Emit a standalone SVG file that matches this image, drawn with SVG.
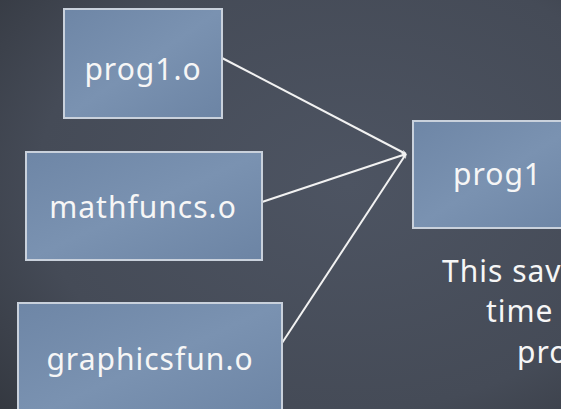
<svg xmlns="http://www.w3.org/2000/svg" width="561" height="409" viewBox="0 0 561 409">
  <defs>
    <radialGradient id="board" cx="0.62" cy="0.45" r="0.85">
      <stop offset="0" stop-color="#4d5462"/>
      <stop offset="0.65" stop-color="#454b57"/>
      <stop offset="1" stop-color="#33373f"/>
    </radialGradient>
    <linearGradient id="boxfill" x1="0" y1="0" x2="1" y2="1">
      <stop offset="0" stop-color="#6e86a6"/>
      <stop offset="0.5" stop-color="#7a92b1"/>
      <stop offset="1" stop-color="#6c84a4"/>
    </linearGradient>
    <marker id="tip" viewBox="0 0 10 10" refX="9" refY="5" markerWidth="5" markerHeight="5" orient="auto" markerUnits="userSpaceOnUse">
      <path d="M1,1 L9,5 L1,9" fill="none" stroke="#f2f2f2" stroke-width="1.5"/>
    </marker>
  </defs>
  <style>
    .box { fill: url(#boxfill); stroke: #c9d1dc; stroke-width: 2; }
    .label { font-family: "Noto Sans", "Open Sans", sans-serif; font-size: 30px; letter-spacing: 1px; fill: #f6f6f6; }
    .link { stroke: #f2f2f2; stroke-width: 2; fill: none; }
  </style>

  <!-- chalkboard -->
  <rect x="0" y="0" width="561" height="409" fill="url(#board)"/>

  <g id="connectors">
    <line class="link" x1="222" y1="58" x2="406" y2="154" marker-end="url(#tip)"/>
    <line class="link" x1="262" y1="202" x2="406" y2="154" marker-end="url(#tip)"/>
    <line class="link" x1="282" y1="343" x2="406" y2="154" marker-end="url(#tip)"/>
  </g>

  <g id="prog1-o">
    <rect class="box" x="64" y="9" width="158" height="109"/>
    <text class="label" x="143" y="80" text-anchor="middle">prog1.o</text>
  </g>

  <g id="mathfuncs-o">
    <rect class="box" x="26" y="152" width="236" height="108"/>
    <text class="label" x="143" y="218" text-anchor="middle">mathfuncs.o</text>
  </g>

  <g id="graphicsfun-o">
    <rect class="box" x="18" y="303" width="264" height="120"/>
    <text class="label" x="150" y="370" text-anchor="middle">graphicsfun.o</text>
  </g>

  <g id="prog1">
    <rect class="box" x="413" y="121" width="170" height="107"/>
    <text class="label" x="453" y="185">prog1</text>
  </g>

  <g id="note">
    <text class="label" x="442" y="282">This sav</text>
    <text class="label" x="486" y="322">time</text>
    <text class="label" x="517" y="363">pro</text>
  </g>
</svg>
